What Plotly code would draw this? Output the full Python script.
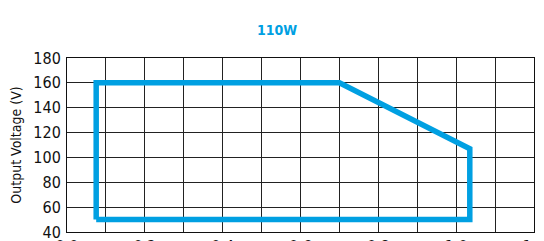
import plotly.graph_objects as go

# Operating area outline (output current A, output voltage V)
current = [0.075, 0.075, 0.70, 1.035, 1.035, 0.075]
voltage = [50, 160, 160, 107, 50, 50]

x_ticks = [0.0, 0.2, 0.4, 0.6, 0.8, 1.0, 1.2]
y_ticks = [40, 60, 80, 100, 120, 140, 160, 180]

BLUE = "#00A0E2"
FONT = "DejaVu Sans Condensed, Liberation Sans, Arial, sans-serif"

fig = go.Figure()
fig.add_trace(go.Scatter(
    x=current, y=voltage, mode="lines",
    line=dict(color=BLUE, width=5.5),
    showlegend=False, hoverinfo="skip",
))

# the page body has an 8px margin, so the figure is sized to fit the window
fig.update_layout(
    width=536, height=233,
    margin=dict(l=59, r=10, t=49.5, b=9, autoexpand=False),
    paper_bgcolor="white", plot_bgcolor="white",
    title=dict(text="<b>110W</b>", x=0.502, xanchor="center", y=0.906, yanchor="middle",
               font=dict(family=FONT, size=14, color=BLUE)),
    font=dict(family=FONT, size=16, color="#111"),
)
fig.update_xaxes(
    range=[0, 1.2], tickvals=x_ticks, ticktext=[f"{v:.1f}" for v in x_ticks],
    showgrid=True, gridcolor="#222", gridwidth=1,
    minor=dict(dtick=0.1, showgrid=True, gridcolor="#222", gridwidth=1),
    showline=True, linecolor="#111", linewidth=1, mirror=True,
    zeroline=False, ticks="", automargin=False, ticklabeloverflow="allow",
)
fig.update_yaxes(
    range=[40, 180], tickvals=y_ticks,
    showgrid=True, gridcolor="#222", gridwidth=1,
    showline=True, linecolor="#111", linewidth=1, mirror=True,
    zeroline=False, ticks="", automargin=False, ticklabeloverflow="allow",
    ticklabelstandoff=2,
    title=dict(text="Output Voltage (V)", font=dict(family=FONT, size=14), standoff=10),
)

fig.write_html("out.html")
